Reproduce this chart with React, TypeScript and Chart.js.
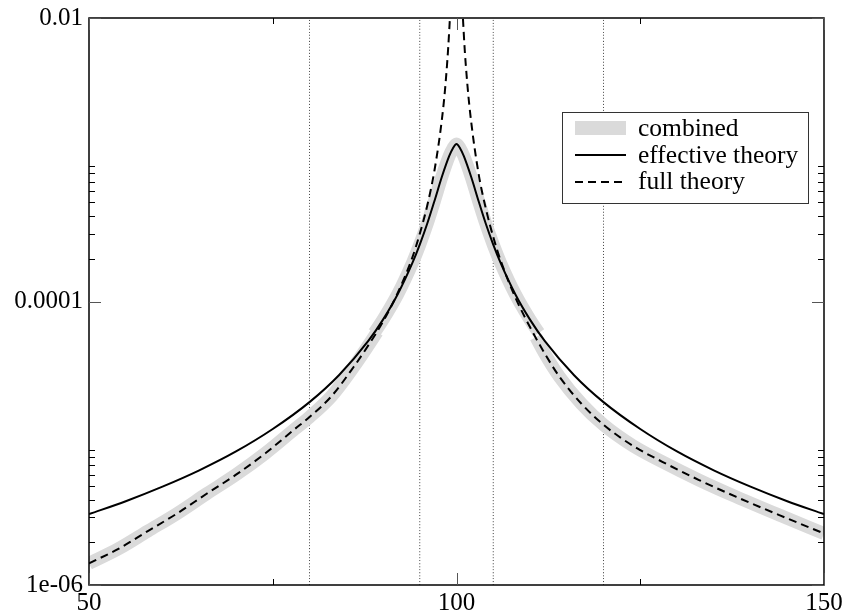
import React, { useEffect, useRef } from 'react';
import { Chart, registerables } from 'chart.js';
Chart.register(...registerables);

// ---- data ----
const xEff = [50, 55, 60, 65, 70, 75, 80, 84, 88, 90, 92, 94, 95, 96, 97, 98, 99, 99.5, 100, 100.5, 101, 102, 103, 104, 105, 106, 108, 110, 112, 116, 120, 125, 130, 135, 140, 145, 150];
const yEff = [3.16e-6, 3.9e-6, 4.94e-6, 6.44e-6, 8.75e-6, 1.26e-5, 1.95e-5, 3.02e-5, 5.27e-5, 7.45e-5, 1.125e-4, 1.87e-4, 2.52e-4, 3.52e-4, 5.12e-4, 7.55e-4, 1.06e-3, 1.2e-3, 1.29e-3, 1.2e-3, 1.06e-3, 7.55e-4, 5.12e-4, 3.52e-4, 2.52e-4, 1.87e-4, 1.125e-4, 7.45e-5, 5.27e-5, 3.02e-5, 1.95e-5, 1.26e-5, 8.75e-6, 6.44e-6, 4.94e-6, 3.9e-6, 3.16e-6];

const xFull = [50, 54, 58, 62, 66, 70, 74, 78, 80, 83, 86, 88, 90, 92, 94, 95, 96, 97, 98, 98.5, 99, 99.5, 100, 100.5, 101, 101.5, 102, 103, 104, 105, 106, 108, 110, 112, 114, 117, 120, 124, 128, 133, 138, 144, 150];
const yFull = [1.42e-6, 1.8e-6, 2.4e-6, 3.2e-6, 4.4e-6, 6.0e-6, 8.5e-6, 1.26e-5, 1.53e-5, 2.15e-5, 3.45e-5, 4.9e-5, 7.2e-5, 1.15e-4, 2.05e-4, 3.0e-4, 4.7e-4, 8.4e-4, 1.9e-3, 3.4e-3, 8.0e-3, 3.0e-2, 0.5, 3.0e-2, 7.6e-3, 3.3e-3, 1.85e-3, 8.0e-4, 4.5e-4, 2.85e-4, 1.95e-4, 1.07e-4, 6.6e-5, 4.3e-5, 2.95e-5, 1.9e-5, 1.35e-5, 9.6e-6, 7.4e-6, 5.5e-6, 4.2e-6, 3.1e-6, 2.31e-6];

const xCombLeft = [50, 54, 58, 62, 66, 70, 74, 78, 80, 83, 86, 88, 89.2];
const yCombLeft = [1.42e-6, 1.8e-6, 2.4e-6, 3.2e-6, 4.4e-6, 6.0e-6, 8.5e-6, 1.26e-5, 1.53e-5, 2.15e-5, 3.45e-5, 4.9e-5, 6.1e-5];
const xCombMid = [88.8, 90, 92, 94, 95, 96, 97, 98, 99, 99.5, 100, 100.5, 101, 102, 103, 104, 105, 106, 108, 110, 111.2];
const yCombMid = [6.0e-5, 7.45e-5, 1.125e-4, 1.87e-4, 2.52e-4, 3.52e-4, 5.12e-4, 7.55e-4, 1.06e-3, 1.2e-3, 1.29e-3, 1.2e-3, 1.06e-3, 7.55e-4, 5.12e-4, 3.52e-4, 2.52e-4, 1.87e-4, 1.125e-4, 7.45e-5, 6.0e-5];
const xCombRight = [110.8, 112, 114, 117, 120, 124, 128, 133, 138, 144, 150];
const yCombRight = [5.6e-5, 4.3e-5, 2.95e-5, 1.9e-5, 1.35e-5, 9.6e-6, 7.4e-6, 5.5e-6, 4.2e-6, 3.1e-6, 2.31e-6];

const dottedX = [80, 95, 105, 120];

const xTicks = [50, 100, 150];
const xTickLabels = ['50', '100', '150'];
const xMinorTicks = [75, 125];
const yTicks = [1e-6, 1e-4, 1e-2];
const yTickLabels = ['1e-06', '0.0001', '0.01'];
const yMinorTicks = [2e-6, 3e-6, 4e-6, 5e-6, 6e-6, 7e-6, 8e-6, 9e-6, 2e-4, 3e-4, 4e-4, 5e-4, 6e-4, 7e-4, 8e-4, 9e-4];

const legendLabels = ['combined', 'effective theory', 'full theory'];

const FONT = "'Liberation Serif', 'Times New Roman', serif";
const GRAY = '#dadada';

function pts(xs: number[], ys: number[]) {
  return xs.map((x, i) => ({ x, y: ys[i] }));
}

const framePlugin = {
  id: 'frameTicks',
  afterDatasetsDraw(chart: any) {
    const { ctx, chartArea: a, scales } = chart;
    const xs = scales.x, ys = scales.y;
    ctx.save();
    ctx.strokeStyle = '#000';
    ctx.lineWidth = 1.5;
    ctx.strokeRect(a.left, a.top, a.right - a.left, a.bottom - a.top);
    ctx.lineWidth = 1;
    const line = (x1: number, y1: number, x2: number, y2: number) => {
      ctx.beginPath(); ctx.moveTo(x1, y1); ctx.lineTo(x2, y2); ctx.stroke();
    };
    ctx.strokeStyle = '#555';
    yTicks.forEach(v => {
      const y = Math.round(ys.getPixelForValue(v)) + 0.5;
      line(a.left, y, a.left + 12, y);
      line(a.right, y, a.right - 12, y);
    });
    xTicks.forEach(v => {
      const x = Math.round(xs.getPixelForValue(v)) + 0.5;
      line(x, a.bottom, x, a.bottom - 12);
      line(x, a.top, x, a.top + 12);
    });
    ctx.strokeStyle = '#000';
    yMinorTicks.forEach(v => {
      const y = Math.round(ys.getPixelForValue(v)) + 0.5;
      line(a.left, y, a.left + 6, y);
      line(a.right, y, a.right - 6, y);
    });
    xMinorTicks.forEach(v => {
      const x = Math.round(xs.getPixelForValue(v)) + 0.5;
      line(x, a.bottom, x, a.bottom - 6);
      line(x, a.top, x, a.top + 6);
    });
    ctx.restore();
  },
};

const legendPlugin = {
  id: 'boxLegend',
  afterDraw(chart: any) {
    const { ctx } = chart;
    ctx.save();
    const bx = 562.5, by = 112.5, bw = 246, bh = 91;
    ctx.fillStyle = '#fff';
    ctx.fillRect(bx, by, bw, bh);
    ctx.strokeStyle = '#333';
    ctx.lineWidth = 1;
    ctx.strokeRect(bx, by, bw, bh);
    const rows = [129, 156, 182];
    const sx1 = 575, sx2 = 626;
    ctx.strokeStyle = GRAY; ctx.lineWidth = 14; ctx.setLineDash([]);
    ctx.beginPath(); ctx.moveTo(sx1, rows[0] - 1); ctx.lineTo(sx2, rows[0] - 1); ctx.stroke();
    ctx.strokeStyle = '#000'; ctx.lineWidth = 2;
    ctx.beginPath(); ctx.moveTo(sx1, rows[1] - 1); ctx.lineTo(sx2, rows[1] - 1); ctx.stroke();
    ctx.setLineDash([8, 5]);
    ctx.beginPath(); ctx.moveTo(sx1, rows[2]); ctx.lineTo(sx2, rows[2]); ctx.stroke();
    ctx.setLineDash([]);
    ctx.fillStyle = '#000';
    ctx.font = `25.5px ${FONT}`;
    ctx.textBaseline = 'middle';
    ctx.textAlign = 'left';
    legendLabels.forEach((t, i) => ctx.fillText(t, 638, rows[i]));
    ctx.restore();
  },
};

export default function App() {
  const ref = useRef<HTMLCanvasElement>(null);
  useEffect(() => {
    document.body.style.margin = '0';
    const canvas = ref.current;
    if (!canvas) return;
    const lineBase = { pointRadius: 0, fill: false, clip: 0, cubicInterpolationMode: 'monotone' as const };
    const datasets: any[] = [
      { ...lineBase, label: legendLabels[2], data: pts(xFull, yFull), borderColor: '#000', borderWidth: 2, borderDash: [8, 5], order: 1 },
      { ...lineBase, label: legendLabels[1], data: pts(xEff, yEff), borderColor: '#000', borderWidth: 2, order: 2 },
      { ...lineBase, label: legendLabels[0], data: pts(xCombLeft, yCombLeft), borderColor: GRAY, borderWidth: 13, order: 3 },
      { ...lineBase, label: legendLabels[0], data: pts(xCombMid, yCombMid), borderColor: GRAY, borderWidth: 13, order: 3 },
      { ...lineBase, label: legendLabels[0], data: pts(xCombRight, yCombRight), borderColor: GRAY, borderWidth: 13, order: 3 },
      ...dottedX.map(x => ({
        ...lineBase, label: 'ref', data: [{ x, y: 1e-6 }, { x, y: 1e-2 }], borderColor: '#444', borderWidth: 1, borderDash: [1, 2], order: 4,
      })),
    ];
    const chart = new Chart(canvas, {
      type: 'line',
      data: { datasets },
      options: {
        animation: false,
        responsive: false,
        maintainAspectRatio: false,
        devicePixelRatio: 1,
        layout: { padding: { top: 18, right: 20, left: 0, bottom: 0 } },
        plugins: { legend: { display: false }, tooltip: { enabled: false } },
        events: [],
        scales: {
          x: {
            type: 'linear', min: 50, max: 150,
            afterFit: (s: any) => { s.height = 30; s.paddingLeft = 0; s.paddingRight = 0; },
            afterBuildTicks: (s: any) => { s.ticks = xTicks.map(v => ({ value: v })); },
            ticks: {
              autoSkip: false, maxRotation: 0, padding: 3, color: '#000',
              font: { family: FONT, size: 25 },
              callback: (v: any) => xTickLabels[xTicks.indexOf(Number(v))] ?? '',
            },
            grid: { display: false, drawTicks: false },
            border: { display: false },
          },
          y: {
            type: 'logarithmic', min: 1e-6, max: 1e-2,
            afterFit: (s: any) => { s.width = 89; s.paddingTop = 0; s.paddingBottom = 0; },
            afterBuildTicks: (s: any) => { s.ticks = yTicks.map(v => ({ value: v })); },
            ticks: {
              autoSkip: false, padding: 6, color: '#000',
              font: { family: FONT, size: 25 },
              callback: (v: any) => {
                const i = yTicks.findIndex(t => Math.abs(Math.log10(t) - Math.log10(Number(v))) < 1e-6);
                return i >= 0 ? yTickLabels[i] : '';
              },
            },
            grid: { display: false, drawTicks: false },
            border: { display: false },
          },
        },
      },
      plugins: [framePlugin, legendPlugin],
    } as any);
    return () => chart.destroy();
  }, []);
  return <canvas ref={ref} width={844} height={615} style={{ display: 'block' }} />;
}
